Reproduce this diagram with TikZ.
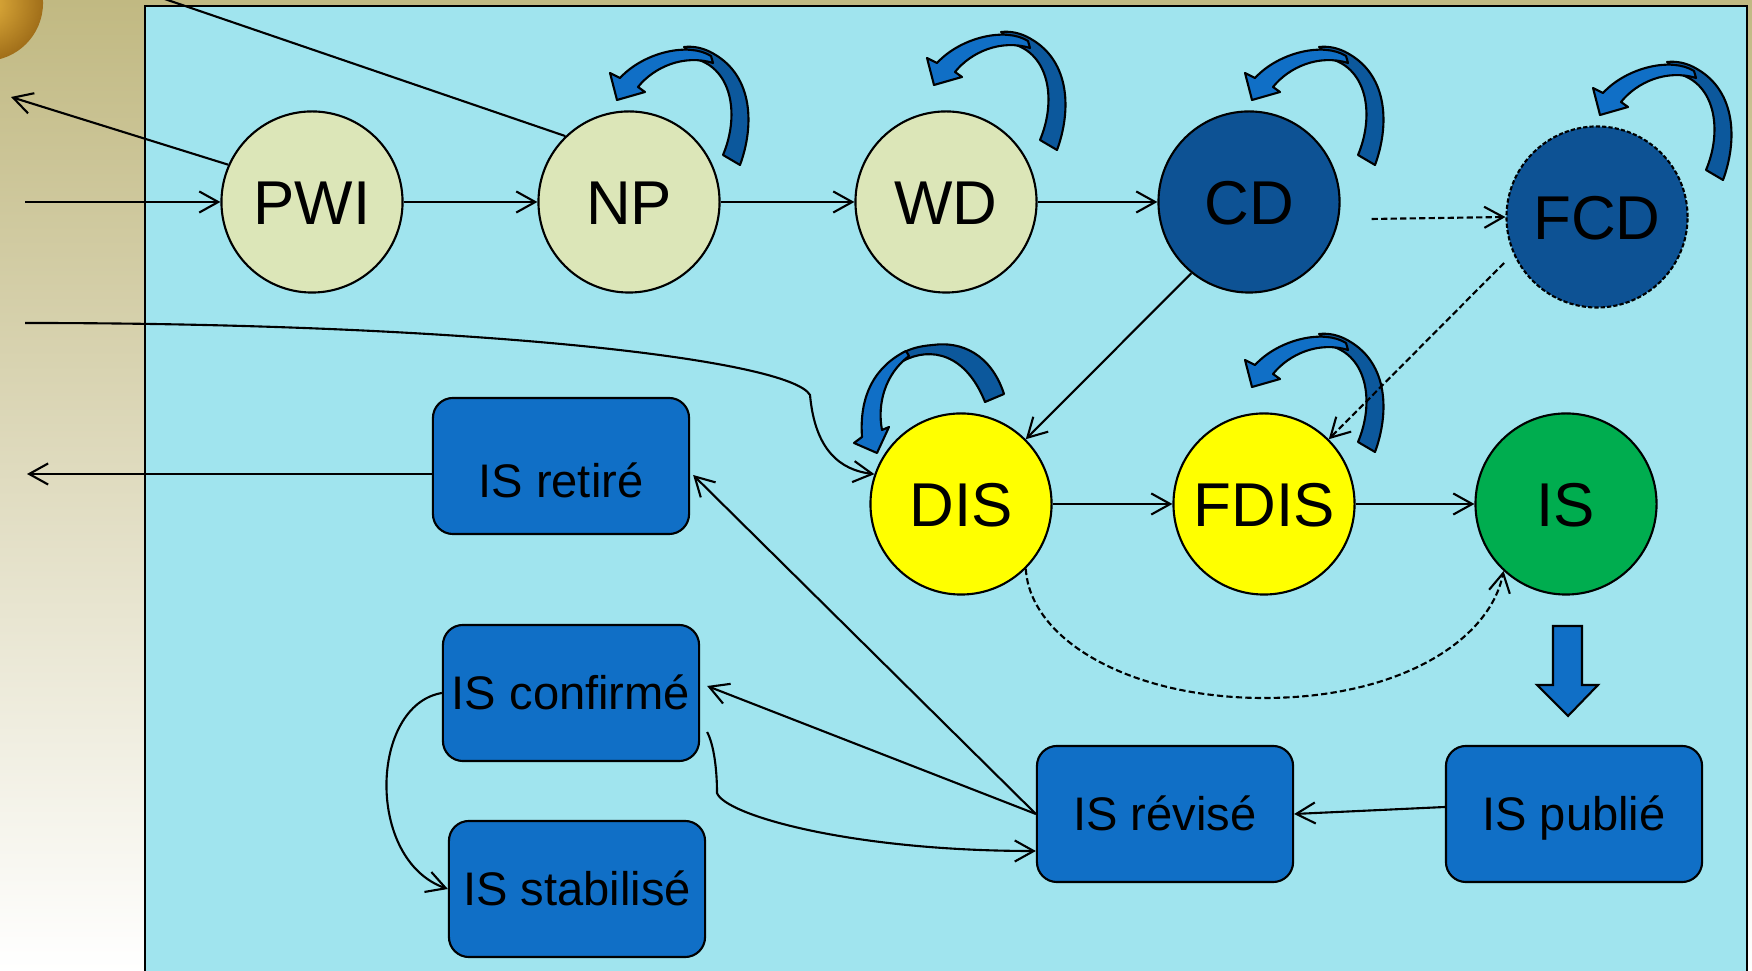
\documentclass[tikz,border=0pt]{standalone}
\usepackage{fontspec}
\setmainfont{Liberation Sans}
\usepackage{xcolor}
\usepackage{tikz}
\usetikzlibrary{calc,arrows.meta}

\definecolor{panelcyan}{RGB}{160,228,238}
\definecolor{palegreen}{RGB}{220,230,184}
\definecolor{darkblue}{RGB}{13,82,148}
\definecolor{boxblue}{RGB}{16,111,198}
\definecolor{ribbondark}{RGB}{12,88,156}
\definecolor{isgreen}{RGB}{0,173,79}
\definecolor{khaki}{RGB}{193,185,130}
\definecolor{stageyellow}{RGB}{255,255,0}

\tikzset{
	stage/.style={circle, draw, line width=0.6pt, minimum size=1.81cm, inner sep=0pt,
		text height=12.6pt, text depth=0pt, font=\fontsize{17.6}{20}\selectfont},
	isbox/.style={rectangle, rounded corners=0.2cm, draw, line width=0.6pt, fill=boxblue,
		minimum width=2.56cm, minimum height=1.36cm, inner sep=0pt,
		text height=9.6pt, text depth=0pt, font=\fontsize{13.4}{16}\selectfont},
	link/.style={line width=0.6pt, -{Straight Barb[length=5.4pt,width=6pt]}},
	dashlink/.style={link, dash pattern=on 1.8pt off 0.9pt},
	loopback/.style={fill=ribbondark, draw, line width=0.6pt, line join=round},
	loopfront/.style={fill=boxblue, draw, line width=0.6pt, line join=round}
}

\newcommand{\loopright}[1]{%
	\begin{scope}[shift={#1}]
		\filldraw[loopback] (111,-37) .. controls (125,-75) and (125,-125) .. (85,-148)
			.. controls (75,-154) and (65,-156) .. (55,-155) -- (70,-142)
			.. controls (104,-130) and (110,-85) .. (94,-47) -- cycle;
		\filldraw[loopfront] (82,-146) .. controls (60,-160) and (15,-150) .. (-9,-124)
			-- (-19,-129) -- (-12,-102) -- (16,-110) -- (9,-115)
			.. controls (25,-135) and (55,-148) .. (84,-139) -- cycle;
	\end{scope}}

\begin{document}
\begin{tikzpicture}[x=0.01cm, y=-0.01cm]
			\useasboundingbox (0,0) rectangle (1752,971);
			\shade[top color=khaki, bottom color=white] (0,0) rectangle (1752,971);
			\shade[inner color={rgb,255:red,228;green,178;blue,62}, outer color={rgb,255:red,160;green,110;blue,25}]
				(-15,3) circle (0.58cm);
			\draw[fill=panelcyan, line width=0.6pt] (145,6) rectangle (1747,990);

			\node[stage, fill=palegreen] (PWI) at (312,202) {PWI};
			\node[stage, fill=palegreen] (NP) at (629,202) {NP};
			\node[stage, fill=palegreen] (WD) at (946,202) {WD};
			\node[stage, fill=darkblue] (CD) at (1249,202) {CD};
			\node[stage, fill=darkblue, dash pattern=on 1.2pt off 0.6pt] (FCD) at (1597,217) {FCD};
			\node[stage, fill=stageyellow] (DIS) at (961,504) {DIS};
			\node[stage, fill=stageyellow] (FDIS) at (1264,504) {FDIS};
			\node[stage, fill=isgreen] (IS) at (1566,504) {IS};

			\node[isbox, text height=18.2pt] (retire) at (561,466) {IS retiré};
			\node[isbox] (confirme) at (571,693) {IS confirmé};
			\node[isbox] (stabilise) at (577,889) {IS stabilisé};
			\node[isbox] (revise) at (1165,814) {IS révisé};
			\node[isbox] (publie) at (1574,814) {IS publié};

			\loopright{(NP)}
			\loopright{($(WD)+(0,-15)$)}
			\loopright{($(CD)+(15,0)$)}
			\loopright{($(FCD)+(15,0)$)}
			\loopright{($(FDIS)+(0,-15)$)}
			\begin{scope}[shift={(DIS)}]
				\filldraw[loopback] (43,-110) .. controls (30,-150) and (0,-163) .. (-28,-159)
					.. controls (-42,-158) and (-52,-155) .. (-60,-150) -- (-58,-143)
					.. controls (-30,-158) and (5,-150) .. (24,-102) -- cycle;
				\filldraw[loopfront] (-55,-153) .. controls (-85,-138) and (-102,-110) .. (-99,-67)
					-- (-107,-61) -- (-84,-51) -- (-72,-77) -- (-79,-74)
					.. controls (-84,-100) and (-76,-130) .. (-52,-148) -- cycle;
			\end{scope}

			\coordinate (topNP) at (150,-6);
			\coordinate (inPWI) at (25,202);
			\coordinate (outPWI) at (11,97);
			\coordinate (inDIS) at (25,323);
			\coordinate (outretire) at (27,474);

			\draw[line width=0.6pt] (topNP) -- (NP.134);
			\draw[link] (PWI.156) -- (outPWI);
			\draw[link] (inPWI) -- (PWI);
			\draw[link] (PWI) -- (NP);
			\draw[link] (NP) -- (WD);
			\draw[link] (WD) -- (CD);
			\draw[dashlink] ($(CD.east)+(31,17)$) -- (FCD.west);
			\draw[link] (CD.231) -- (DIS.45);
			\draw[dashlink] ($(FCD)+(-93,46)$) -- (FDIS.45);
			\draw[link] (inDIS) .. controls (480,323) and (790,360) .. (810,395)
				.. controls (815,450) and (840,470) .. (DIS.161);
			\draw[link] (DIS) -- (FDIS);
			\draw[link] (FDIS) -- (IS);
			\draw[dashlink] (DIS.-45) .. controls (1030,640) and (1130,698) .. (1264,698)
				.. controls (1400,698) and (1490,640) .. (IS.-133);
			\filldraw[fill=boxblue, line width=0.6pt] (1553,626) -- (1582,626) -- (1582,685) -- (1598,685)
				-- (1568,716) -- (1537,685) -- (1553,685) -- cycle;
			\draw[link] ($(publie.west)+(0,-7)$) -- (revise.east);
			\draw[link] (revise.west) -- ($(retire.east)+(3,9)$);
			\draw[link] (revise.west) -- ($(confirme.east)+(7,-7)$);
			\draw[link] ($(confirme.east)+(7,39)$) .. controls (714,745) and (717,770) .. (717,793)
				.. controls (725,815) and (850,851) .. ($(revise.west)+(0,37)$);
			\draw[link] (confirme.west) .. controls (370,705) and (365,860) .. (stabilise.west);
			\draw[link] ($(retire.west)+(0,8)$) -- (outretire);
		\end{tikzpicture}
\end{document}
